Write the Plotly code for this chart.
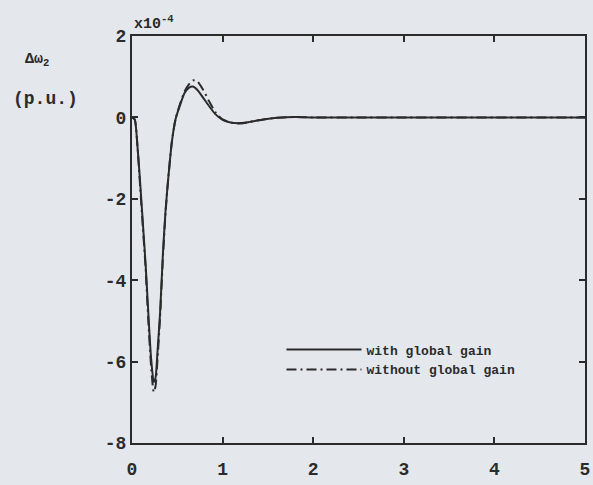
import plotly.graph_objects as go

t = [0, 0.03, 0.06, 0.09, 0.12, 0.15, 0.18, 0.21, 0.24, 0.26, 0.28, 0.31, 0.34, 0.37, 0.40, 0.44, 0.48,
     0.53, 0.58, 0.63, 0.67, 0.72, 0.78, 0.85, 0.92, 1.0, 1.1, 1.2, 1.3, 1.45, 1.6, 1.8, 2.0, 2.5, 3, 4, 5]
with_gain = [0, -0.05, -0.7, -1.6, -2.6, -3.6, -4.8, -5.9, -6.5, -6.4, -5.8, -4.8, -3.4, -2.3, -1.5, -0.6, -0.05,
             0.3, 0.6, 0.73, 0.76, 0.68, 0.5, 0.28, 0.08, -0.06, -0.13, -0.14, -0.11, -0.05, -0.01, 0.01, 0.0,
             0, 0, 0, 0]
without_gain = [0, -0.05, -0.7, -1.7, -2.7, -3.7, -5.0, -6.1, -6.75, -6.6, -6.0, -4.9, -3.5, -2.35, -1.5, -0.6,
                -0.05, 0.33, 0.64, 0.82, 0.91, 0.89, 0.7, 0.4, 0.13, -0.05, -0.13, -0.15, -0.11, -0.05, -0.01,
                0.01, 0, 0, 0, 0, 0]
x_ticks = [0, 1, 2, 3, 4, 5]
y_ticks = [-8, -6, -4, -2, 0, 2]

ink = "#2b2b2b"
bg = "#e4e8ed"
mono = "Liberation Mono"

fig = go.Figure()
fig.add_trace(go.Scatter(x=t, y=with_gain, mode="lines", name="with global gain",
                         line=dict(color=ink, width=2, shape="spline", smoothing=0.6)))
fig.add_trace(go.Scatter(x=t, y=without_gain, mode="lines", name="without global gain",
                         line=dict(color=ink, width=2, shape="spline", smoothing=0.6,
                                   dash="10px,4px,2px,4px")))

axis_common = dict(showgrid=False, zeroline=False, showline=True, linecolor=ink, linewidth=2,
                   mirror="ticks", ticks="inside", ticklen=6, tickwidth=1.5, tickcolor=ink,
                   ticklabeloverflow="allow",
                   tickfont=dict(family=mono, size=18, color=ink, weight="bold"))

fig.update_layout(
    width=593, height=485,
    margin=dict(l=132, r=3, t=36, b=42),
    paper_bgcolor=bg, plot_bgcolor=bg,
    xaxis=dict(range=[0, 5], tickvals=x_ticks, ticktext=[str(v) for v in x_ticks],
               ticklabelstandoff=8, **axis_common),
    yaxis=dict(range=[-8, 2], tickvals=y_ticks, ticktext=[str(v) for v in y_ticks],
               ticklabelstandoff=0, **axis_common),
    showlegend=True,
    legend=dict(x=0.33, y=0.205, xanchor="left", yanchor="middle", bgcolor="rgba(0,0,0,0)",
                font=dict(family=mono, size=13, color=ink, weight="bold"), itemwidth=75,
                tracegroupgap=0),
    annotations=[
        dict(text="x10<sup>-4</sup>", xref="paper", yref="paper", x=0.0, y=1.0, xanchor="left",
             yanchor="bottom", showarrow=False, yshift=1,
             font=dict(family=mono, size=15, color=ink, weight="bold")),
        dict(text="Δω<sub>2</sub>", xref="paper", yref="paper", x=-0.21, y=0.94, xanchor="center",
             yanchor="middle", showarrow=False,
             font=dict(family=mono, size=15, color=ink, weight="bold")),
        dict(text="(p.u.)", xref="paper", yref="paper", x=-0.19, y=0.845, xanchor="center",
             yanchor="middle", showarrow=False,
             font=dict(family=mono, size=18, color=ink, weight="bold")),
    ],
)

fig.write_html("out.html")
